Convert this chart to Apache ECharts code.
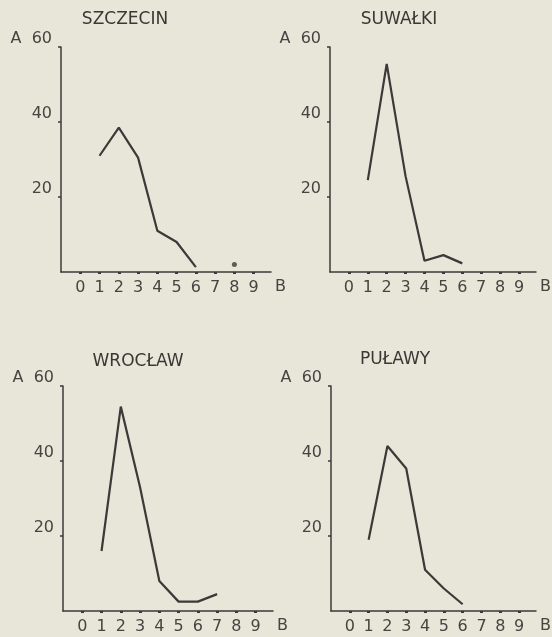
<!DOCTYPE html>
<html>
<head>
<meta charset="utf-8">
<script src="https://cdn.jsdelivr.net/npm/echarts@6/dist/echarts.min.js"></script>
<style>
  html, body { margin: 0; padding: 0; background: #e8e5d9; }
  #chart { width: 552px; height: 637px; }
</style>
</head>
<body>
<div id="chart"></div>
<script>
// wartości (B = 1..7, A w %)
const stations = ['SZCZECIN', 'SUWAŁKI', 'WROCŁAW', 'PUŁAWY'];
const xSzczecin = [1, 2, 3, 4, 5, 6];
const aSzczecin = [31, 38.5, 30.5, 11, 8, 1.3];
const extraSzczecin = [[8, 2]];
const xSuwalki = [1, 2, 3, 4, 5, 6];
const aSuwalki = [24.5, 55.5, 25.5, 3, 4.5, 2.3];
const xWroclaw = [1, 2, 3, 4, 5, 6, 7];
const aWroclaw = [16, 54.5, 33, 8, 2.5, 2.5, 4.5];
const xPulawy = [1, 2, 3, 4, 5, 6];
const aPulawy = [19, 44, 38, 11, 6, 1.8];
const xTicks = [0, 1, 2, 3, 4, 5, 6, 7, 8, 9];
const yTicks = [20, 40, 60];

const ink = '#3a3a38';
const textInk = '#454542';
const font = 'DejaVu Sans';

const zip = (xs, ys) => xs.map((x, i) => [x, ys[i]]);
const seriesData = [
    zip(xSzczecin, aSzczecin),
    zip(xSuwalki, aSuwalki),
    zip(xWroclaw, aWroclaw),
    zip(xPulawy, aPulawy)
];

// pozycje paneli
const panels = [
    {left: 61, top: 47, titleX: 120, titleY: 6},
    {left: 330, top: 47, titleX: 394, titleY: 6},
    {left: 63, top: 386, titleX: 133, titleY: 348},
    {left: 331, top: 386, titleX: 390, titleY: 346}
];

const chart = echarts.init(document.getElementById('chart'));

let option = {
    backgroundColor: '#e8e5d9',
    animation: false,
    title: panels.map((p, i) => ({
        text: stations[i],
        left: p.titleX,
        top: p.titleY,
        textAlign: 'center',
        textStyle: {fontFamily: font, fontSize: 17, fontWeight: 500, color: '#383835'}
    })),
    grid: panels.map(p => ({left: p.left, top: p.top, width: 210, height: 225})),
    xAxis: panels.map((p, i) => ({
        type: 'value',
        gridIndex: i,
        min: -1,
        max: 9.9,
        interval: 1,
        name: 'B',
        nameLocation: 'end',
        nameGap: 4,
        nameTextStyle: {fontFamily: font, fontSize: 16, color: textInk, verticalAlign: 'top', padding: [7, 0, 0, 0]},
        axisLine: {lineStyle: {color: ink, width: 1.5}},
        axisTick: {show: true, inside: false, length: 2, customValues: xTicks, lineStyle: {color: ink, width: 3}},
        axisLabel: {customValues: xTicks, margin: 8, fontFamily: font, fontSize: 16, color: textInk},
        splitLine: {show: false}
    })),
    yAxis: panels.map((p, i) => ({
        type: 'value',
        gridIndex: i,
        min: 0,
        max: 60,
        interval: 20,
        axisLine: {show: true, onZero: false, lineStyle: {color: ink, width: 1.5}},
        axisTick: {show: true, length: 3, customValues: yTicks, lineStyle: {color: ink, width: 1.5}},
        axisLabel: {
            customValues: yTicks,
            margin: 9,
            verticalAlign: 'bottom',
            fontFamily: font,
            fontSize: 16,
            color: textInk,
            formatter: v => v === 60 ? 'A  60' : String(v)
        },
        splitLine: {show: false}
    })),
    series: seriesData.map((d, i) => ({
        type: 'line',
        xAxisIndex: i,
        yAxisIndex: i,
        data: d,
        symbol: 'none',
        lineStyle: {color: ink, width: 2.2}
    })).concat([{
        type: 'scatter',
        xAxisIndex: 0,
        yAxisIndex: 0,
        data: extraSzczecin,
        symbolSize: 5,
        itemStyle: {color: ink}
    }])
};

chart.setOption(option);
</script>
</body>
</html>
